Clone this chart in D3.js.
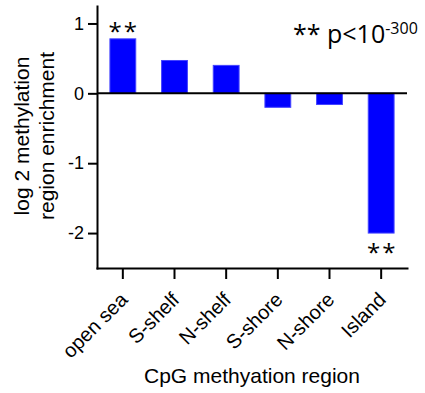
<!DOCTYPE html>
<html>
<head>
<meta charset="utf-8">
<script src="https://cdn.jsdelivr.net/npm/d3@7"></script>
<style>
  body { margin: 0; background: #fff; }
  svg text { font-family: "Liberation Sans", Arial, sans-serif; fill: #000; }
</style>
</head>
<body>
<div id="chart"></div>
<script>
// data
const categories = ['open sea', 'S-shelf', 'N-shelf', 'S-shore', 'N-shore', 'Island'];
const enrichment = [0.78, 0.47, 0.40, -0.20, -0.16, -2.0];
const starred = ['open sea', 'Island'];
const yTicks = [-2, -1, 0, 1];
const yDomain = [-2.5, 1.25];

const totalW = 425, totalH = 393;
const margin = {top: 6, right: 18, bottom: 125, left: 97};
const width = totalW - margin.left - margin.right;
const height = totalH - margin.top - margin.bottom;

const svg = d3.select('#chart').append('svg')
    .attr('width', totalW)
    .attr('height', totalH);

const g = svg.append('g')
    .attr('transform', `translate(${margin.left},${margin.top})`);

const x = d3.scaleBand()
    .domain(categories)
    .range([0, width])
    .padding(0);

const y = d3.scaleLinear()
    .domain(yDomain)
    .range([height, 0]);

const data = categories.map((c, i) => ({cat: c, val: enrichment[i]}));

// bars
const barW = x.bandwidth() * 0.5;
g.selectAll('rect.bar')
    .data(data)
    .enter()
    .append('rect')
    .attr('class', 'bar')
    .attr('x', d => x(d.cat) + (x.bandwidth() - barW) / 2)
    .attr('width', barW)
    .attr('y', d => y(Math.max(0, d.val)))
    .attr('height', d => Math.abs(y(d.val) - y(0)))
    .attr('fill', '#0000ff')
    .attr('stroke', '#4444ff')
    .attr('stroke-width', 1);

// zero line
g.append('line')
    .attr('x1', 0)
    .attr('x2', width)
    .attr('y1', y(0))
    .attr('y2', y(0))
    .attr('stroke', '#000')
    .attr('stroke-width', 2);

// y axis (plain hyphen for negatives, like the original)
const yAxisG = g.append('g')
    .call(d3.axisLeft(y).tickValues(yTicks).tickFormat(d => String(d)).tickSize(9).tickSizeOuter(0).tickPadding(4));
yAxisG.select('.domain').attr('stroke-width', 2).attr('stroke-linecap', 'square');
yAxisG.selectAll('.tick line').attr('stroke-width', 2);
yAxisG.selectAll('text').style('font-size', '18px').attr('fill', '#000');

// x axis
const xAxisG = g.append('g')
    .attr('transform', `translate(0,${height})`)
    .call(d3.axisBottom(x).tickSize(11).tickSizeOuter(0));
xAxisG.select('.domain').attr('stroke-width', 2).attr('stroke-linecap', 'square');
xAxisG.selectAll('.tick line').attr('stroke-width', 2);
xAxisG.selectAll('text')
    .style('font-size', '20px')
    .attr('fill', '#000')
    .attr('text-anchor', 'end')
    .attr('x', 0)
    .attr('y', 0)
    .attr('dy', 0)
    .attr('transform', 'translate(6,33) rotate(-45)');

// significance stars
g.selectAll('text.star')
    .data(data.filter(d => starred.includes(d.cat)))
    .enter()
    .append('text')
    .attr('class', 'star')
    .attr('x', d => x(d.cat) + x.bandwidth() / 2 + 1)
    .attr('y', d => d.val > 0 ? y(d.val) + 1 : y(d.val) + 28)
    .attr('text-anchor', 'middle')
    .style('font-family', '"Open Sans", sans-serif')
    .style('font-size', '24px')
    .style('letter-spacing', '2px')
    .text('**');

// p-value note
const note = svg.append('text')
    .attr('x', 293)
    .attr('y', 43)
    .style('font-family', '"Open Sans", sans-serif')
    .style('font-size', '25px');
note.append('tspan').text('** p<10');
note.append('tspan')
    .attr('dy', -9)
    .style('font-size', '16px')
    .text('-300');

// y axis title
const yTitle = ['log 2 methylation', 'region enrichment'];
svg.selectAll('text.ytitle')
    .data(yTitle)
    .enter()
    .append('text')
    .attr('class', 'ytitle')
    .attr('transform', (d, i) => `translate(${29 + i * 24.5},136) rotate(-90)`)
    .attr('text-anchor', 'middle')
    .style('font-size', '21px')
    .text(d => d);

// x axis title
svg.append('text')
    .attr('x', margin.left + width / 2)
    .attr('y', 383)
    .attr('text-anchor', 'middle')
    .style('font-size', '21px')
    .text('CpG methyation region');
</script>
</body>
</html>
